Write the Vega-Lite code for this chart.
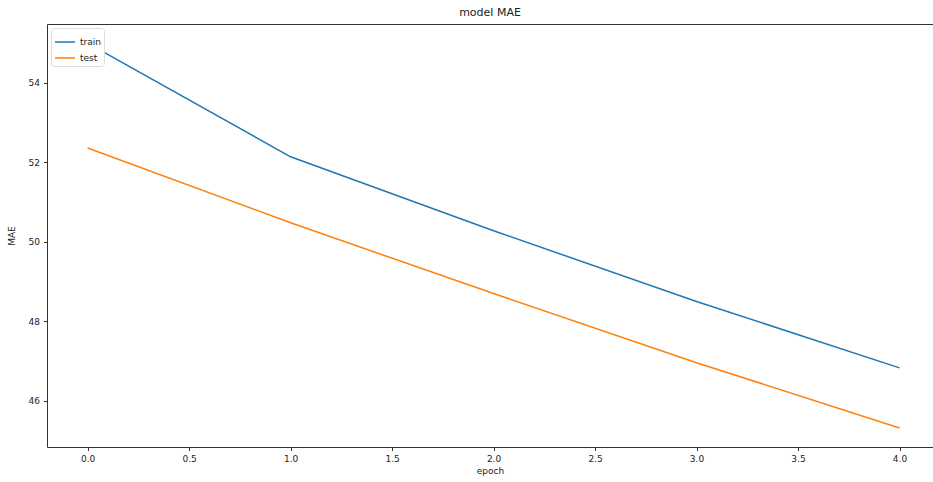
{
  "$schema": "https://vega.github.io/schema/vega-lite/v6.json",
  "autosize": {"type": "none"},
  "padding": {"left": 47, "top": 24, "right": 0, "bottom": 35},
  "width": 886,
  "height": 423,
  "background": "white",
  "title": {"text": "model MAE", "fontSize": 11, "fontWeight": "normal", "font": "DejaVu Sans", "color": "#222", "offset": 6, "anchor": "middle"},
  "config": {
    "font": "DejaVu Sans",
    "view": {"stroke": "#333", "strokeWidth": 1},
    "axis": {"grid": false, "domain": false, "tickColor": "#333", "tickSize": 3.5, "labelFontSize": 9, "labelColor": "#222", "titleFontSize": 9, "titleFontWeight": "normal", "titleColor": "#222", "labelPadding": 4}
  },
  "data": {
    "values": [
      {"epoch": 0, "series": "train", "MAE": 55.0},
      {"epoch": 1, "series": "train", "MAE": 52.14},
      {"epoch": 2, "series": "train", "MAE": 50.28},
      {"epoch": 3, "series": "train", "MAE": 48.5},
      {"epoch": 4, "series": "train", "MAE": 46.83},
      {"epoch": 0, "series": "test", "MAE": 52.36},
      {"epoch": 1, "series": "test", "MAE": 50.48},
      {"epoch": 2, "series": "test", "MAE": 48.7},
      {"epoch": 3, "series": "test", "MAE": 46.96},
      {"epoch": 4, "series": "test", "MAE": 45.32}
    ]
  },
  "mark": {"type": "line", "strokeWidth": 1.5, "clip": true},
  "encoding": {
    "x": {"field": "epoch", "type": "quantitative", "title": "epoch",
      "scale": {"domain": [-0.2, 4.165], "nice": false, "zero": false},
      "axis": {"values": [0, 0.5, 1, 1.5, 2, 2.5, 3, 3.5, 4], "format": ".1f", "titlePadding": 3}},
    "y": {"field": "MAE", "type": "quantitative", "title": "MAE",
      "scale": {"domain": [44.84, 55.48], "nice": false, "zero": false},
      "axis": {"values": [46, 48, 50, 52, 54], "format": "d", "titlePadding": 12}},
    "color": {"field": "series", "type": "nominal", "title": null,
      "scale": {"domain": ["train", "test"], "range": ["#1f77b4", "#ff7f0e"]},
      "legend": {"orient": "top-left", "offset": 4, "padding": 3, "strokeColor": "#ddd", "fillColor": "white", "cornerRadius": 3,
        "symbolType": "stroke", "symbolSize": 400, "symbolStrokeWidth": 1.5, "labelFontSize": 9, "labelColor": "#222", "rowPadding": 0}}
  }
}
